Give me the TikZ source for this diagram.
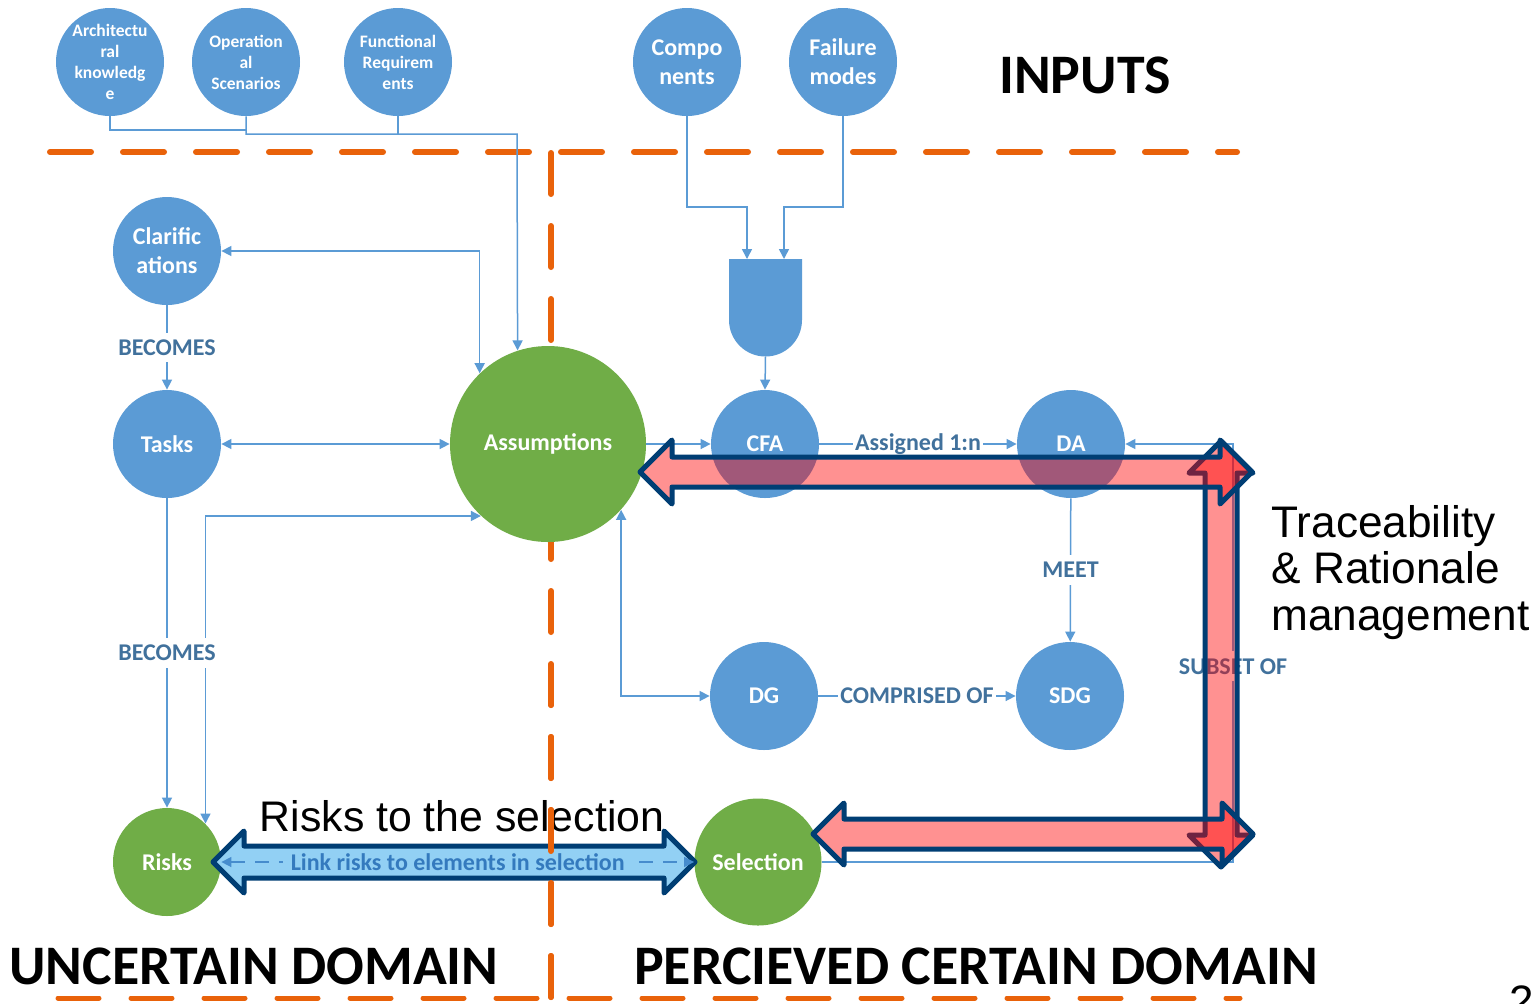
\documentclass[tikz,border=0pt]{standalone}
\usepackage{fontspec}
\setmainfont{Carlito}
\newfontfamily\arialfont{Liberation Sans}
\usetikzlibrary{arrows.meta}

\definecolor{nodeblue}{RGB}{91,155,213}
\definecolor{nodegreen}{RGB}{112,173,71}
\definecolor{edgeblue}{RGB}{91,155,213}
\definecolor{labelblue}{RGB}{65,113,156}
\definecolor{domainorange}{RGB}{233,98,10}
\definecolor{navy}{RGB}{0,62,116}
\definecolor{linkfill}{RGB}{146,208,244}
\definecolor{linktext}{RGB}{52,122,190}
\definecolor{linkstroke}{RGB}{70,140,205}

% wide double-headed block arrows: style, first tip, second tip, axis, head size, half shaft
\newcommand\hbigarrow[6]{\path[#1] (#2,#4) -- (#2+#5,#4-#5) -- (#2+#5,#4-#6) -- (#3-#5,#4-#6) -- (#3-#5,#4-#5) -- (#3,#4) -- (#3-#5,#4+#5) -- (#3-#5,#4+#6) -- (#2+#5,#4+#6) -- (#2+#5,#4+#5) -- cycle;}
\newcommand\vbigarrow[6]{\path[#1] (#4,#2) -- (#4-#5,#2+#5) -- (#4-#6,#2+#5) -- (#4-#6,#3-#5) -- (#4-#5,#3-#5) -- (#4,#3) -- (#4+#5,#3-#5) -- (#4+#6,#3-#5) -- (#4+#6,#2+#5) -- (#4+#5,#2+#5) -- cycle;}

\begin{document}
\begin{tikzpicture}[x=0.5pt,y=-0.5pt,
  >={Triangle[length=5pt,width=5pt]},
  bubble/.style={circle, inner sep=0pt, minimum size=54pt, fill=nodeblue, text=white,
    align=center, font=\bfseries\fontsize{12}{14.5}\selectfont},
  smallbubble/.style={bubble, font=\bfseries\fontsize{8.75}{10.5}\selectfont},
  greenbubble/.style={bubble, fill=nodegreen},
  wire/.style={draw=edgeblue, line width=0.75pt},
  rel/.style={fill=white, text=labelblue, font=\bfseries\fontsize{12}{13.5}\selectfont,
    inner xsep=1pt, inner ysep=3.5pt},
  domainline/.style={draw=domainorange, line width=3pt, line cap=round, dash pattern=on 20.5pt off 16pt},
  redarrow/.style={draw=navy, line width=2.5pt, line join=round, fill=red, fill opacity=0.43},
  bluearrow/.style={draw=navy, line width=2.5pt, line join=round, fill=linkfill},
  linkline/.style={draw=linkstroke, line width=0.75pt, dash pattern=on 7pt off 5pt, <->},
  bigtext/.style={font=\bfseries\fontsize{27.9}{32}\selectfont}]

\useasboundingbox[fill=white] (0,0) rectangle (1531,1003);

% domain boundaries
\coordinate (h1) at (50,152);
\coordinate (h2) at (1237,152);
\coordinate (v1) at (551,153);
\coordinate (v2) at (551,1000);
\coordinate (b1) at (58,998);
\coordinate (b2) at (1240,998);
\draw[domainline] (h1) -- (h2);
\draw[domainline] (v1) -- (v2);
\draw[domainline, line width=2.5pt] (b1) -- (b2);

% inputs
\node[smallbubble] (arch) at (110,62) {Architectu\\ral\\knowledg\\e};
\node[smallbubble] (oper) at (246,62) {Operation\\al\\Scenarios};
\node[smallbubble] (func) at (398,62) {Functional\\Requirem\\ents};
\node[bubble] (comp) at (687,62) {Compo\\nents};
\node[bubble] (fail) at (843,62) {Failure\\modes};

% uncertain domain
\node[bubble] (clar) at (167,251) {Clarific\\ations};
\node[bubble] (tasks) at (167,444) {Tasks};
\node[greenbubble] (risks) at (167,862) {Risks};
\node[greenbubble, minimum size=98pt] (assum) at (548,444) {Assumptions};

% perceived certain domain
\node[greenbubble, minimum size=63.5pt] (sel) at (758,862) {Selection};
\node[bubble] (cfa) at (765,444) {CFA};
\node[bubble] (da) at (1071,444) {DA};
\node[bubble] (dg) at (764,696) {DG};
\node[bubble] (sdg) at (1070,696) {SDG};

% combining gate
\fill[nodeblue] (729,259) -- (802,259) -- (802,320) arc[start angle=0, end angle=180, radius=36.5] -- cycle;
\coordinate (gin1) at (747,259);
\coordinate (gin2) at (784,259);
\coordinate (gout) at (765.5,356.5);
\coordinate (c1) at (747,207);
\coordinate (c2) at (784,207);

% input connectors
\coordinate (j1) at (246,130);
\coordinate (j2) at (517,134);
\draw[wire] (arch.south) |- (j1);
\draw[wire] (func.south) -- (func.south |- j2);
\draw[wire,->] (oper.south) |- (j2) -- (assum.108.4);
\draw[wire,->] (comp.south) |- (c1) -- (gin1);
\draw[wire,->] (fail.south) |- (c2) -- (gin2);
\draw[wire,->] (gout) -- (cfa.north);

% uncertain domain connectors
\draw[wire,<->] (clar.east) -| (assum.134.8);
\draw[wire,<->] (tasks.east) -- (assum.west);
\draw[wire,<->] (risks.45.3) |- (assum.227.3);
\draw[wire,->] (clar) -- node[rel] {BECOMES} (tasks);
\draw[wire,->] (tasks) -- node[rel] {BECOMES} (risks);

% certain domain connectors
\draw[wire,->] (assum.east) -- (cfa.west);
\draw[wire,<->] (assum.-42.7) |- (dg.west);
\draw[wire,->] (cfa) -- node[rel] {Assigned 1:n} (da);
\draw[wire,->] (da) -- node[rel] {MEET} (sdg);
\draw[wire,->] (dg) -- node[rel] {COMPRISED OF} (sdg);
\coordinate (s1) at (1233,862);
\coordinate (s2) at (1233,444);
\draw[wire,->] (sel.east) -- (s1) -- node[rel, pos=0.468] {SUBSET OF} (s2) -- (da.east);

% risks to the selection
\hbigarrow{bluearrow}{213}{695}{862}{31}{16}
\draw[linkline] (risks.east) -- node[fill=linkfill, text=linktext, inner xsep=4pt, inner ysep=1pt,
  font=\bfseries\fontsize{12}{14}\selectfont] {Link risks to elements in selection} (sel.west);
\node[font=\arialfont\fontsize{21.4}{24}\selectfont] (rts) at (462,816) {Risks to the selection};
\begin{scope}
  \clip (530,700) rectangle (570,1003);
  \draw[domainline] (v1) -- (v2);
\end{scope}

% traceability and rationale arrows
\vbigarrow{redarrow}{441}{867}{1221}{32}{16}
\hbigarrow{redarrow}{640}{1252}{472}{32}{15}
\hbigarrow{redarrow}{813}{1253}{834}{31}{15}

% titles
\node[bigtext] (inputs) at (1085,75) {INPUTS};
\node[bigtext] (unc) at (254,966) {UNCERTAIN DOMAIN};
\node[bigtext] (pcd) at (976,966) {PERCIEVED CERTAIN DOMAIN};
\node[anchor=north west, align=left, inner sep=0pt,
  font=\arialfont\fontsize{22.1}{23.25}\selectfont] (trace) at (1271,505)
  {Traceability\\\& Rationale\\management};
\node[anchor=north west, inner sep=0pt, font=\arialfont\fontsize{22}{26}\selectfont] (page) at (1509,985) {2};
\end{tikzpicture}
\end{document}
